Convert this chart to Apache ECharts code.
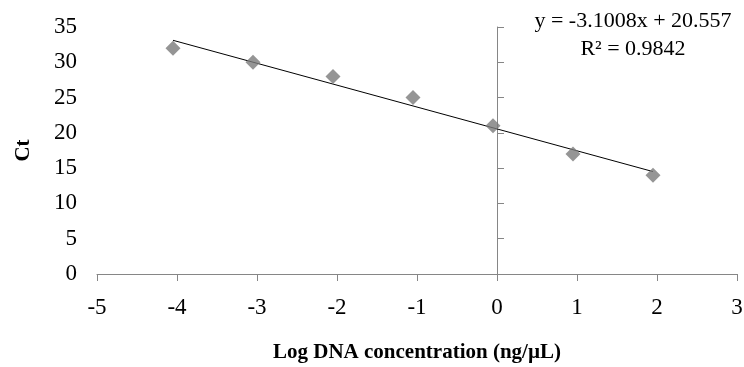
<!DOCTYPE html>
<html>
<head>
<meta charset="utf-8">
<script src="https://cdn.jsdelivr.net/npm/echarts@6/dist/echarts.min.js"></script>
<style>
    html, body { margin: 0; padding: 0; background: #fff; }
    #chart { width: 744px; height: 367px; }
</style>
</head>
<body>
<div id="chart"></div>
<script>
// 数据
const logConc = [-4.05, -3.05, -2.05, -1.05, -0.05, 0.95, 1.95]
const ctValues = [32, 30, 28, 25, 21, 17, 14]

// 趋势线
const slope = -3.1008
const intercept = 20.557
const equationText = 'y = -3.1008x + 20.557'
const r2Text = 'R² = 0.9842'

const serif = '"Liberation Serif", "DejaVu Serif", serif'
const axisColor = '#868686'

const xStart = logConc[0]
const xEnd = logConc[logConc.length - 1]
const trend = [
    [xStart, slope * xStart + intercept],
    [xEnd, slope * xEnd + intercept],
]

const chart = echarts.init(document.getElementById('chart'))
chart.setOption({
    animation: false,
    grid: { left: 97, right: 7, top: 27, bottom: 93, containLabel: false, outerBoundsMode: 'none' },
    xAxis: {
        type: 'value',
        min: -5,
        max: 3,
        interval: 1,
        name: 'Log DNA concentration (ng/µL)',
        nameLocation: 'middle',
        nameGap: 68,
        nameTextStyle: { fontFamily: serif, fontSize: 21, fontWeight: 'bold', color: '#000' },
        axisLine: { onZero: false, lineStyle: { color: axisColor } },
        axisTick: { length: 7, lineStyle: { color: axisColor } },
        axisLabel: { fontFamily: serif, fontSize: 23, color: '#000', margin: 22 },
        splitLine: { show: false },
    },
    yAxis: [
        {
            // 左侧标签
            type: 'value',
            min: 0,
            max: 35,
            interval: 5,
            position: 'left',
            name: 'Ct',
            nameLocation: 'middle',
            nameGap: 63,
            nameTextStyle: { fontFamily: serif, fontSize: 21, fontWeight: 'bold', color: '#000' },
            axisLine: { show: false },
            axisTick: { show: false },
            axisLabel: { fontFamily: serif, fontSize: 23, color: '#000', margin: 20 },
            splitLine: { show: false },
        },
        {
            // x=0 处的轴线
            type: 'value',
            min: 0,
            max: 35,
            interval: 5,
            axisLine: { show: true, onZero: true, onZeroAxisIndex: 0, lineStyle: { color: axisColor } },
            axisTick: { show: true, inside: false, length: 7, lineStyle: { color: axisColor } },
            axisLabel: { show: false },
            splitLine: { show: false },
        },
    ],
    graphic: [
        {
            type: 'text',
            x: 633,
            y: 21,
            style: { text: equationText, font: '22px ' + serif, fill: '#000', align: 'center', verticalAlign: 'middle' },
        },
        {
            type: 'text',
            x: 633,
            y: 49,
            style: { text: r2Text, font: '22px ' + serif, fill: '#000', align: 'center', verticalAlign: 'middle' },
        },
    ],
    series: [
        {
            type: 'line',
            data: trend,
            showSymbol: false,
            lineStyle: { color: '#000', width: 1 },
            z: 1,
        },
        {
            type: 'scatter',
            data: logConc.map((x, i) => [x, ctValues[i]]),
            symbol: 'diamond',
            symbolSize: [15, 15],
            itemStyle: { color: '#7a7a7a' },
            z: 2,
        },
    ],
})
</script>
</body>
</html>
